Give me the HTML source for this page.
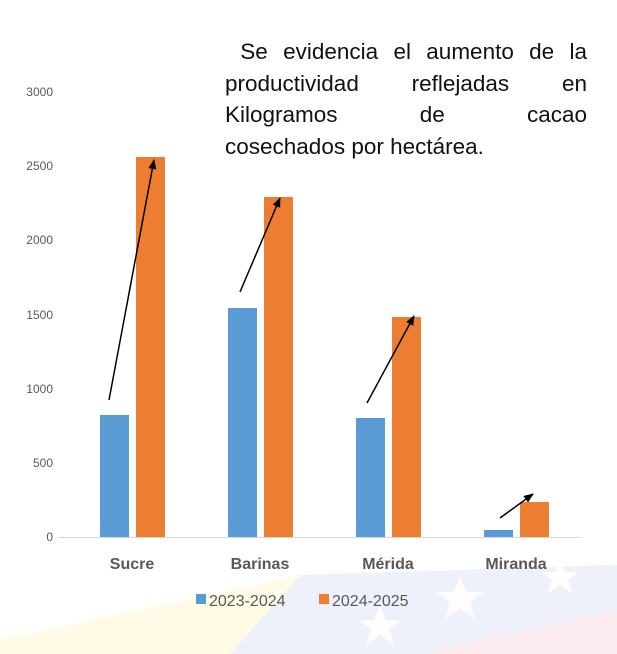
<!DOCTYPE html>
<html><head><meta charset="utf-8"><style>
body{margin:0;width:617px;height:654px;background:#fff;overflow:hidden;position:relative;font-family:"Liberation Sans",sans-serif}
.t{position:absolute;left:225px;width:362px;font-size:22.5px;line-height:31.5px;color:#111;text-align:justify;text-align-last:justify;top:36px}
</style></head><body>
<svg width="617" height="654" style="position:absolute;left:0;top:0">
<defs><marker id="a" markerWidth="10" markerHeight="10" refX="9" refY="5" orient="auto" markerUnits="userSpaceOnUse"><path d="M0,1 L10,5 L0,9 Z" fill="#000"/></marker></defs>
<polygon points="0,640 300,575 230,654 0,654" fill="#fffbe6"/>
<polygon points="300,575 617,565 617,610 420,654 230,654" fill="#eef1fa"/>
<polygon points="420,654 617,610 617,654" fill="#fcecef"/>
<g fill="#fff" opacity="0.9"><polygon points="460,575 466,592 484,592 470,602 475,619 460,609 445,619 450,602 436,592 454,592"/><polygon points="380,605 386,620 402,620 389,629 394,645 380,635 366,645 371,629 358,620 374,620"/><polygon points="560,560 565,572 578,572 568,580 572,593 560,585 548,593 552,580 542,572 555,572"/></g>
<g font-size="12" fill="#595959" text-anchor="end"><text x="53" y="541">0</text><text x="53" y="467">500</text><text x="53" y="393">1000</text><text x="53" y="319">1500</text><text x="53" y="244">2000</text><text x="53" y="170">2500</text><text x="53" y="96">3000</text></g>
<line x1="58" y1="537.5" x2="581" y2="537.5" stroke="#d9d9d9"/>
<g fill="#5b9bd5"><rect x="100" y="415" width="29" height="122"/><rect x="228" y="308" width="29" height="229"/><rect x="356" y="418" width="29" height="119"/><rect x="484" y="530" width="29" height="7"/></g>
<g fill="#ed7d31"><rect x="136" y="157" width="29" height="380"/><rect x="264" y="197" width="29" height="340"/><rect x="392" y="317" width="29" height="220"/><rect x="520" y="502" width="29" height="35"/></g>
<g stroke="#000" stroke-width="1.5" marker-end="url(#a)"><line x1="109" y1="400" x2="154" y2="160"/><line x1="240" y1="292" x2="280" y2="198"/><line x1="367" y1="403" x2="414" y2="316"/><line x1="500" y1="518" x2="533" y2="494"/></g>
<g font-size="16" font-weight="bold" fill="#595959" text-anchor="middle"><text x="132" y="569">Sucre</text><text x="260" y="569">Barinas</text><text x="388" y="569">Mérida</text><text x="516" y="569">Miranda</text></g>
<rect x="196" y="594" width="10" height="10" fill="#5b9bd5"/><text x="209" y="606" font-size="16" fill="#595959">2023-2024</text>
<rect x="319" y="594" width="10" height="10" fill="#ed7d31"/><text x="332" y="606" font-size="16" fill="#595959">2024-2025</text>
</svg>
<div class="t">&nbsp;Se evidencia el aumento de la productividad reflejadas en Kilogramos de cacao <span style="display:inline-block;text-align:left">cosechados por hectárea.</span></div>
</body></html>
